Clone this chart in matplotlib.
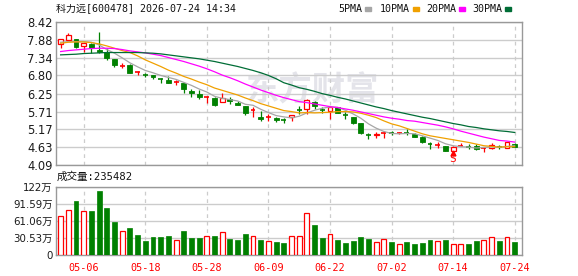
import matplotlib
matplotlib.use("Agg")
import matplotlib.pyplot as plt
from matplotlib.patches import Rectangle

title = "科力远[600478] 2026-07-24 14:34"
vol_title = "成交量:235482"

tick_pos = [3, 11, 19, 27, 35, 43, 51, 59]
tick_labels = ["05-06", "05-18", "05-28", "06-09", "06-22", "07-02", "07-14", "07-24"]
price_ticks = [4.09, 4.63, 5.17, 5.71, 6.25, 6.80, 7.34, 7.88, 8.42]
price_labels = ["4.09", "4.63", "5.17", "5.71", "6.25", "6.80", "7.34", "7.88", "8.42"]
vol_ticks = [0, 30.53, 61.06, 91.59, 122]
vol_labels = ["0", "30.53万", "61.06万", "91.59万", "122万"]

opens = [7.76, 7.88, 7.89, 7.70, 7.76, 7.58, 7.52, 7.29, 7.09, 7.11,
         6.89, 6.82, 6.80, 6.69, 6.66, 6.59, 6.56, 6.34, 6.24, 6.14,
         6.13, 6.01, 6.10, 5.98, 5.88, 5.76, 5.56, 5.56, 5.52, 5.47,
         5.54, 5.76, 5.80, 6.00, 5.75, 5.74, 5.84, 5.60, 5.54, 5.37,
         5.01, 5.00, 5.07, 5.06, 5.06, 5.06, 5.03, 4.94, 4.73, 4.70,
         4.67, 4.53, 4.66, 4.65, 4.67, 4.61, 4.61, 4.65, 4.61, 4.73]
highs = [7.90, 8.09, 7.90, 7.78, 7.77, 8.10, 7.64, 7.29, 7.17, 7.13,
         6.94, 6.86, 6.81, 6.72, 6.79, 6.66, 6.57, 6.38, 6.36, 6.18,
         6.14, 6.26, 6.16, 6.02, 5.89, 5.84, 5.73, 5.63, 5.56, 5.52,
         5.61, 5.88, 6.09, 6.03, 5.86, 5.84, 5.85, 5.70, 5.55, 5.37,
         5.07, 5.09, 5.11, 5.11, 5.10, 5.18, 5.06, 4.97, 4.79, 4.79,
         4.68, 4.66, 4.77, 4.73, 4.73, 4.65, 4.77, 4.71, 4.80, 4.77]
lows = [7.62, 7.84, 7.63, 7.50, 7.49, 7.47, 7.27, 7.06, 7.02, 6.86,
        6.80, 6.74, 6.68, 6.56, 6.57, 6.51, 6.28, 6.16, 6.10, 5.98,
        5.89, 5.99, 5.94, 5.90, 5.62, 5.56, 5.42, 5.44, 5.40, 5.36,
        5.44, 5.64, 5.64, 5.80, 5.68, 5.50, 5.67, 5.50, 5.35, 5.03,
        4.87, 4.90, 4.91, 5.01, 5.02, 5.00, 4.94, 4.77, 4.59, 4.61,
        4.52, 4.49, 4.66, 4.59, 4.55, 4.49, 4.57, 4.59, 4.60, 4.64]
closes = [7.90, 8.03, 7.65, 7.77, 7.64, 7.50, 7.32, 7.10, 7.09, 6.88,
          6.89, 6.81, 6.74, 6.68, 6.58, 6.59, 6.38, 6.26, 6.14, 6.14,
          5.92, 6.11, 6.04, 5.92, 5.68, 5.76, 5.49, 5.56, 5.47, 5.46,
          5.61, 5.75, 6.06, 5.88, 5.74, 5.84, 5.68, 5.59, 5.36, 5.07,
          5.00, 5.04, 5.07, 5.05, 5.06, 5.05, 4.95, 4.79, 4.72, 4.70,
          4.53, 4.65, 4.66, 4.64, 4.57, 4.61, 4.71, 4.64, 4.79, 4.65]

# volume in 万
volume = [69.7, 79.8, 96.5, 78.0, 78.6, 114.0, 84.0, 59.0, 42.3, 48.0,
          35.7, 25.0, 32.0, 32.0, 34.0, 27.0, 43.0, 30.4, 30.0, 34.0,
          34.0, 41.0, 28.6, 27.0, 37.5, 33.5, 27.0, 24.5, 23.0, 21.0,
          33.5, 33.5, 74.5, 53.6, 30.4, 37.0, 27.0, 21.4, 25.0, 32.0,
          28.6, 23.0, 28.0, 23.0, 19.0, 23.0, 19.6, 21.0, 27.0, 25.0,
          27.0, 20.5, 19.0, 19.6, 25.0, 27.0, 31.6, 25.0, 31.6, 23.5]
vol_up = [1, 1, 0, 1, 0, 0, 0, 0, 1, 0,
          0, 0, 0, 0, 0, 1, 0, 0, 0, 1,
          0, 1, 0, 0, 0, 1, 0, 1, 0, 0,
          1, 1, 1, 0, 0, 1, 0, 0, 0, 0,
          0, 1, 1, 0, 1, 0, 0, 0, 0, 1,
          0, 1, 1, 0, 0, 1, 1, 0, 1, 0]

ma5 = [7.80, 7.82, 7.82, 7.82, 7.80, 7.72, 7.58, 7.47, 7.33, 7.18,
       7.06, 6.95, 6.88, 6.80, 6.74, 6.68, 6.59, 6.50, 6.39, 6.30,
       6.17, 6.11, 6.07, 6.03, 5.93, 5.90, 5.78, 5.68, 5.59, 5.55,
       5.52, 5.57, 5.67, 5.75, 5.81, 5.85, 5.84, 5.75, 5.64, 5.51,
       5.34, 5.21, 5.11, 5.05, 5.04, 5.05, 5.04, 4.98, 4.91, 4.84,
       4.74, 4.68, 4.65, 4.64, 4.61, 4.63, 4.64, 4.63, 4.66, 4.68]
ma10 = [7.77, 7.80, 7.81, 7.81, 7.79, 7.75, 7.69, 7.62, 7.55, 7.49,
        7.39, 7.27, 7.17, 7.07, 6.96, 6.87, 6.77, 6.69, 6.60, 6.52,
        6.42, 6.35, 6.28, 6.21, 6.12, 6.04, 5.95, 5.88, 5.81, 5.74,
        5.71, 5.67, 5.68, 5.67, 5.68, 5.69, 5.71, 5.71, 5.70, 5.66,
        5.60, 5.53, 5.43, 5.34, 5.28, 5.20, 5.12, 5.04, 4.98, 4.94,
        4.90, 4.86, 4.82, 4.78, 4.73, 4.68, 4.66, 4.64, 4.65, 4.65]
ma20 = [7.52, 7.55, 7.57, 7.59, 7.61, 7.62, 7.62, 7.61, 7.58, 7.54,
        7.51, 7.48, 7.44, 7.40, 7.34, 7.28, 7.22, 7.15, 7.08, 7.00,
        6.91, 6.81, 6.73, 6.64, 6.54, 6.45, 6.36, 6.28, 6.20, 6.13,
        6.07, 6.01, 5.98, 5.94, 5.90, 5.86, 5.83, 5.79, 5.75, 5.70,
        5.65, 5.60, 5.55, 5.51, 5.48, 5.44, 5.42, 5.38, 5.34, 5.30,
        5.25, 5.19, 5.12, 5.06, 5.00, 4.94, 4.89, 4.84, 4.82, 4.79]
ma30 = [7.42, 7.43, 7.44, 7.46, 7.47, 7.48, 7.49, 7.49, 7.49, 7.49,
        7.49, 7.48, 7.47, 7.45, 7.42, 7.39, 7.36, 7.33, 7.30, 7.26,
        7.22, 7.17, 7.12, 7.07, 7.01, 6.95, 6.88, 6.80, 6.70, 6.58,
        6.51, 6.43, 6.38, 6.32, 6.25, 6.20, 6.14, 6.09, 6.03, 5.97,
        5.91, 5.85, 5.80, 5.74, 5.69, 5.64, 5.59, 5.54, 5.50, 5.45,
        5.40, 5.35, 5.31, 5.26, 5.23, 5.19, 5.16, 5.13, 5.11, 5.08]

ma_names = ["5PMA", "10PMA", "20PMA", "30PMA"]
ma_colors = ["#a6a6a6", "#f0a000", "#ff00ff", "#006d36"]

RED = "#ff0000"
GREEN = "#008000"
GRID = "#cccccc"
BORDER = "#999999"
W, H = 578, 276
MONO_CJK = ["DejaVu Sans Mono", "Noto Sans CJK SC"]
SANS_CJK = ["DejaVu Sans", "Noto Sans CJK SC"]

fig = plt.figure(figsize=(W / 100, H / 100), dpi=100)
ax = fig.add_axes([56 / W, 1 - 165.3 / H, 466 / W, 143.6 / H])
axv = fig.add_axes([56 / W, 1 - 255 / H, 466 / W, 68.3 / H])

n = len(closes)
xs = list(range(n))
bw = 0.64

# watermark
ax.text(0.55, 0.52, "东方财富", transform=ax.transAxes, ha="center", va="center",
        fontsize=24, fontweight="bold", color="#e4e4ea", family="Noto Sans CJK SC", zorder=0)

# candles
for i in xs:
    o, c = opens[i], closes[i]
    up = c >= o
    col = RED if up else GREEN
    ax.vlines(i, lows[i], highs[i], color=col, lw=0.9, zorder=3)
    if abs(c - o) < 0.012:
        ax.hlines(o, i - bw / 2, i + bw / 2, color=col, lw=1.2, zorder=4)
    elif up:
        ax.bar(i, c - o, bottom=o, width=bw, facecolor="white", edgecolor=col, lw=0.9, zorder=4)
    else:
        ax.bar(i, c - o, bottom=o, width=bw, facecolor=col, edgecolor=col, lw=0.6, zorder=4)

for vals, col in zip([ma5, ma10, ma20, ma30], ma_colors):
    ax.plot(xs, vals, color=col, lw=0.9, zorder=5)

# S marker under candle 51
ax.plot(51, 4.45, marker="^", color=RED, ms=3.5, zorder=6)
ax.text(51, 4.27, "S", color=RED, ha="center", va="center", fontsize=8,
        family="DejaVu Sans Mono", zorder=6)

# volume
for i in xs:
    col = RED if vol_up[i] else GREEN
    face = "white" if vol_up[i] else col
    axv.bar(i, volume[i], width=bw, facecolor=face, edgecolor=col,
            lw=0.9 if vol_up[i] else 0.5, zorder=3)

for a in (ax, axv):
    a.set_xlim(-0.6, 59.95)
    a.set_xticks(tick_pos)
    a.grid(axis="x", color=GRID, lw=0.9, ls=(0, (3, 3)), zorder=1)
    a.grid(axis="y", color=GRID, lw=1.0, ls="-", zorder=1)
    a.set_axisbelow(True)
    a.tick_params(length=0)
    for s in a.spines.values():
        s.set_color(BORDER)
        s.set_linewidth(1.0)

ax.set_ylim(4.09, 8.42)
ax.set_yticks(price_ticks)
ax.set_yticklabels(price_labels, fontsize=8.3, color="#1a1a1a")
ax.tick_params(axis="y", pad=2.5)
ax.set_xticklabels([])

axv.set_ylim(0, 122)
axv.set_yticks(vol_ticks)
axv.set_yticklabels(vol_labels, fontsize=7.4, color="#1a1a1a", family=SANS_CJK)
axv.tick_params(axis="y", pad=2.5)
axv.set_xticklabels(tick_labels, fontsize=7.3, color=RED, family="DejaVu Sans Mono")
axv.tick_params(axis="x", pad=6)

# header texts
fig.text(56 / W, 1 - 9.5 / H, title, ha="left", va="center", fontsize=7.2,
         family=MONO_CJK, color="#111111")
fig.text(57 / W, 1 - 177 / H, vol_title, ha="left", va="center", fontsize=7.6,
         family=MONO_CJK, color="#111111")

# legend
leg_x = [338, 380, 426, 472]
box_x = [365, 413, 459, 505]
for name, col, tx, bx in zip(ma_names, ma_colors, leg_x, box_x):
    fig.text(tx / W, 1 - 9.5 / H, name, ha="left", va="center", fontsize=7.2,
             family="DejaVu Sans Mono", color="#111111")
    fig.patches.append(Rectangle((bx / W, 1 - 10.5 / H), 6 / W, 3.5 / H,
                                 transform=fig.transFigure, color=col))

fig.savefig("out.png", dpi=100, facecolor="white")
